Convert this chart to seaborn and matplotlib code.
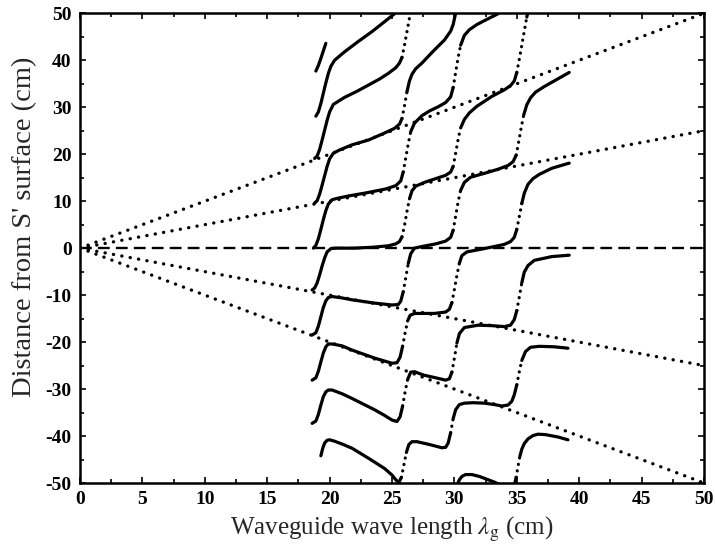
import matplotlib
matplotlib.use("Agg")
import numpy as np
import pandas as pd
import matplotlib.pyplot as plt
import seaborn as sns
from matplotlib.ticker import MultipleLocator

# Node positions (distance from the S' surface, cm) against the guide wavelength (cm).
# Each branch is named after its order between the first two resonances.
b5_x = [18.9, 19.1, 19.3, 19.5, 19.7]
b5_y = [37.7, 38.9, 40.4, 42.0, 43.6]

b4_x = [18.9, 19.1, 19.3, 19.5, 19.7, 19.9, 20.1, 20.4, 21.2, 22.3, 23.4, 24.4, 25.2]
b4_y = [28.1, 29.0, 30.8, 33.0, 35.2, 37.2, 38.7, 40.0, 41.8, 44.0, 46.1, 48.2, 49.9]

b3_x = [18.8, 19.0, 19.2, 19.4, 19.6, 19.8, 20.0, 20.3, 21.2, 22.2, 23.1, 24.0, 24.7,
        25.3, 25.6, 25.8, 26.0, 26.2, 26.4, 26.6]
b3_y = [19.1, 19.6, 21.0, 23.0, 25.1, 27.2, 29.0, 30.6, 32.1, 33.4, 34.7, 36.0, 37.2,
        38.4, 39.4, 40.6, 43.2, 46.1, 49.0, 51.5]

b2_x = [18.8, 19.0, 19.2, 19.4, 19.6, 19.8, 20.0, 20.3, 20.8, 21.8, 23.1, 24.4, 25.2,
        25.6, 25.8, 26.0, 26.2, 26.4, 26.6, 26.9, 27.4, 28.4, 29.2, 29.7, 29.9, 30.1, 30.3]
b2_y = [9.6, 10.1, 11.5, 13.4, 15.4, 17.4, 19.0, 20.2, 20.9, 22.0, 23.0, 24.5, 25.5,
        26.4, 27.6, 30.3, 33.3, 35.6, 37.0, 38.2, 39.4, 42.2, 44.3, 46.2, 47.6, 50.0, 53.0]

b1_x = [18.7, 18.9, 19.1, 19.3, 19.5, 19.7, 19.9, 20.2, 20.6, 21.5, 23.0, 24.5, 25.3,
        25.7, 25.9, 26.1, 26.3, 26.5, 26.8, 27.4, 28.0, 28.7, 29.3, 29.7, 29.9, 30.1,
        30.3, 30.5, 30.8, 31.2, 31.8, 32.6, 33.5]
b1_y = [0.0, 0.6, 2.0, 4.0, 6.1, 8.0, 9.4, 10.3, 10.6, 11.1, 11.8, 12.6, 13.3,
        14.3, 16.2, 19.2, 22.2, 24.8, 26.6, 28.2, 29.2, 30.1, 31.0, 32.2, 34.2, 37.4,
        40.6, 43.2, 45.3, 46.5, 47.6, 48.7, 49.9]

b0_x = [18.6, 18.8, 19.0, 19.2, 19.4, 19.6, 19.8, 20.1, 20.5, 22.0, 23.5, 24.7, 25.3,
        25.6, 25.8, 26.0, 26.2, 26.4, 26.6, 26.9, 27.6, 28.5, 29.3, 29.7, 29.9, 30.1,
        30.3, 30.5, 30.8, 31.2, 31.8, 33.0, 34.0, 34.5, 34.8, 35.0, 35.2, 35.4, 35.6,
        35.8, 36.0]
b0_y = [-8.9, -8.5, -7.4, -5.7, -3.8, -2.1, -0.8, -0.1, 0.0, 0.0, 0.2, 0.5, 0.9,
        1.4, 2.4, 4.8, 7.8, 10.5, 12.2, 13.2, 14.0, 14.8, 15.5, 16.2, 17.4, 20.2,
        23.2, 25.6, 27.4, 28.8, 30.2, 32.3, 33.7, 34.6, 35.6, 37.4, 40.2, 43.2, 46.2,
        49.2, 51.5]

bm1_x = [18.6, 18.9, 19.1, 19.3, 19.5, 19.7, 19.9, 20.2, 21.0, 21.8, 23.6, 25.0, 25.5,
         25.7, 25.9, 26.1, 26.3, 26.5, 26.8, 27.5, 28.5, 29.3, 29.7, 29.9, 30.1, 30.3,
         30.5, 30.8, 31.3, 32.5, 33.5, 34.3, 34.7, 34.95, 35.15, 35.35, 35.55, 35.8,
         36.1, 36.5, 37.2, 38.2, 39.2]
bm1_y = [-18.5, -18.0, -16.6, -14.6, -12.6, -11.2, -10.5, -10.3, -10.6, -11.0, -11.7,
         -12.1, -12.0, -11.3, -9.3, -6.3, -3.3, -1.2, 0.0, 0.4, 0.9, 1.5, 2.3, 3.8,
         6.8, 9.9, 12.3, 14.0, 15.1, 16.0, 16.8, 17.6, 18.4, 19.8, 22.6, 25.6, 28.3,
         30.5, 32.0, 33.2, 34.4, 35.9, 37.4]

bm2_x = [18.6, 18.9, 19.1, 19.3, 19.5, 19.7, 19.9, 20.2, 21.0, 21.8, 23.6, 25.0, 25.4,
         25.65, 25.85, 26.05, 26.25, 26.45, 26.8, 27.1, 28.4, 29.3, 29.6, 29.8, 30.0,
         30.2, 30.4, 30.6, 31.0, 32.2, 33.3, 34.0, 34.5, 34.8, 35.0, 35.2, 35.4, 35.6,
         35.9, 36.3, 36.8, 37.8, 39.2]
bm2_y = [-28.1, -27.6, -26.2, -24.2, -22.3, -21.0, -20.4, -20.4, -20.8, -21.7, -23.4,
         -24.5, -24.4, -23.2, -20.9, -18.0, -15.5, -14.3, -13.9, -13.9, -13.9, -13.6,
         -13.0, -11.6, -8.8, -5.8, -3.2, -1.6, -0.8, -0.2, 0.4, 0.8, 1.4, 2.3, 4.0,
         6.7, 9.5, 11.7, 13.6, 14.8, 15.7, 17.0, 18.1]

bm3_x = [18.6, 18.9, 19.1, 19.3, 19.5, 19.7, 19.9, 20.2, 21.0, 21.8, 22.7, 23.6, 24.4,
         25.0, 25.4, 25.65, 25.85, 26.05, 26.25, 26.5, 26.8, 27.5, 28.5, 29.3, 29.6,
         29.8, 30.0, 30.2, 30.4, 30.8, 31.9, 33.0, 34.0, 34.5, 34.8, 35.0, 35.2, 35.4,
         35.6, 35.9, 36.4, 37.8, 39.2]
bm3_y = [-37.3, -36.8, -35.4, -33.4, -31.6, -30.6, -30.2, -30.2, -31.0, -32.0, -33.2,
         -34.4, -35.6, -36.6, -36.9, -35.9, -33.6, -30.6, -28.0, -26.4, -26.3, -27.0,
         -27.6, -28.1, -27.8, -26.4, -23.4, -20.2, -18.2, -16.9, -16.4, -16.5, -16.7,
         -16.4, -15.2, -13.3, -10.4, -7.4, -5.1, -3.7, -2.6, -1.8, -1.5]

bm4_x = [19.3, 19.45, 19.6, 19.8, 20.0, 20.4, 21.0, 21.8, 23.1, 24.4, 25.0, 25.3, 25.55,
         25.75, 25.95, 26.15, 26.35, 26.6, 27.0, 28.0, 29.0, 29.3, 29.5, 29.7, 29.9,
         30.1, 30.4, 30.8, 31.5, 32.4, 33.2, 33.8, 34.3, 34.6, 34.8, 35.0, 35.2, 35.4,
         35.7, 36.1, 36.8, 38.0, 39.1]
bm4_y = [-44.2, -42.6, -41.5, -40.9, -40.8, -41.1, -41.7, -42.6, -44.7, -46.9, -48.3,
         -49.3, -49.9, -48.8, -46.2, -43.5, -41.8, -41.2, -41.2, -41.8, -42.5, -42.4,
         -41.5, -39.3, -36.3, -34.4, -33.3, -33.0, -32.9, -33.0, -33.3, -33.6, -33.4,
         -32.6, -31.2, -29.1, -26.3, -23.9, -22.0, -21.1, -20.9, -21.0, -21.3]

bm5_x = [30.1, 30.2, 30.4, 30.6, 30.9, 31.4, 32.0, 32.6, 33.2, 33.6, 34.2, 34.8, 34.95,
         35.1, 35.25, 35.4, 35.6, 35.9, 36.3, 36.7, 37.3, 38.3, 39.1]
bm5_y = [-52.0, -50.5, -49.3, -48.6, -48.2, -48.2, -48.6, -49.2, -49.8, -50.3, -51.5,
         -50.5, -48.8, -46.4, -44.3, -42.8, -41.6, -40.6, -39.9, -39.6, -39.7, -40.2,
         -40.8]

# Unperturbed node lines through the origin (value reached at 50 cm)
guide_x_end = 50.0
guide_y_end = [50.0, 25.0, -25.0, -50.0]

x_ticks = [0, 5, 10, 15, 20, 25, 30, 35, 40, 45, 50]
y_ticks = [-50, -40, -30, -20, -10, 0, 10, 20, 30, 40, 50]

branches = [(b5_x, b5_y), (b4_x, b4_y), (b3_x, b3_y), (b2_x, b2_y), (b1_x, b1_y),
            (b0_x, b0_y), (bm1_x, bm1_y), (bm2_x, bm2_y), (bm3_x, bm3_y),
            (bm4_x, bm4_y), (bm5_x, bm5_y)]

sns.set_style("ticks")
plt.rcParams["font.family"] = ["Liberation Serif", "DejaVu Serif"]
plt.rcParams["mathtext.fontset"] = "stix"
plt.rcParams["axes.unicode_minus"] = False

fig = plt.figure(figsize=(7.15, 5.44), dpi=100)
ax = fig.add_axes([0.1119, 0.1121, 0.8727, 0.8635])

ink = "black"
solid_kw = dict(color=ink, linewidth=2.3, solid_capstyle="round", solid_joinstyle="round")
steep_kw = dict(color=ink, linewidth=2.3, linestyle=(0, (0.05, 2.0)), dash_capstyle="round")
guide_kw = dict(color=ink, linewidth=2.4, linestyle=(0, (0.05, 2.5)), dash_capstyle="round")

# zero line
sns.lineplot(x=[0.0, guide_x_end], y=[0.0, 0.0], ax=ax, color=ink, linewidth=1.7,
             linestyle=(0, (5.0, 2.6)), estimator=None, sort=False)

# dotted guide lines
for yend in guide_y_end:
    sns.lineplot(x=[0.0, guide_x_end], y=[0.0, yend], ax=ax, estimator=None,
                 sort=False, **guide_kw)

# branches: gentle stretches solid, steep jumps dotted (sparse sampling look)
steep_limit = 12.0
for bx, by in branches:
    xs = np.asarray(bx, float)
    ys = np.asarray(by, float)
    slope = np.abs(np.diff(ys) / np.diff(xs))
    steep = slope > steep_limit
    start = 0
    for i in range(1, len(steep) + 1):
        if i == len(steep) or steep[i] != steep[start]:
            seg = pd.DataFrame({"x": xs[start:i + 1], "y": ys[start:i + 1]})
            kw = steep_kw if steep[start] else solid_kw
            sns.lineplot(data=seg, x="x", y="y", ax=ax, estimator=None, sort=False, **kw)
            start = i

ax.set_xlim(0, 50)
ax.set_ylim(-50, 50)
ax.set_xticks(x_ticks)
ax.set_yticks(y_ticks)
ax.xaxis.set_minor_locator(MultipleLocator(2.5))
ax.yaxis.set_minor_locator(MultipleLocator(5))
ax.tick_params(which="both", direction="in", top=True, right=True, width=1.2, colors=ink)
ax.tick_params(which="major", length=4, labelsize=14, pad=6)
ax.tick_params(which="minor", length=3)
for lab in ax.get_xticklabels() + ax.get_yticklabels():
    lab.set_fontweight("bold")
for sp in ax.spines.values():
    sp.set_linewidth(1.8)
    sp.set_color(ink)

ax.set_xlabel(r"Waveguide wave length $\lambda_\mathrm{g}$ (cm)", fontsize=18, labelpad=5)
ax.set_ylabel("Distance from S' surface (cm)", fontsize=20.5)
ax.yaxis.set_label_coords(-0.069, 0.545)

fig.savefig("out.png", dpi=100, facecolor="white")
